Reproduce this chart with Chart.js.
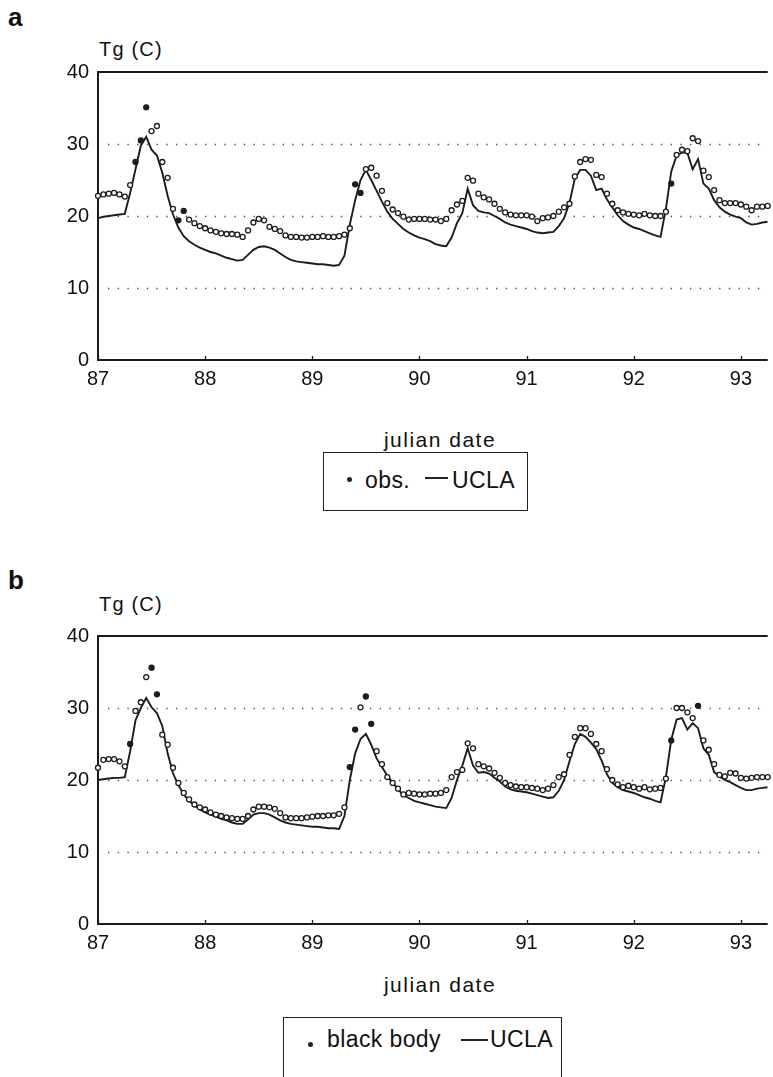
<!DOCTYPE html>
<html lang="en">
<head>
  <meta charset="UTF-8" />
  <title>Tg obs vs UCLA</title>
  <script src="https://cdn.jsdelivr.net/npm/chart.js"></script>
  <style>
    body { margin: 0; background: #fff; font-family: "Liberation Sans", Arial, sans-serif; color: #111; }
    #page { position: relative; width: 773px; height: 1077px; overflow: hidden; }
    canvas { position: absolute; left: 0; }
    .txt { position: absolute; line-height: 1; white-space: nowrap; }
    .panel { font-weight: bold; font-size: 26px; }
    .unit { font-size: 20px; letter-spacing: 1.2px; }
    .xlab { font-size: 21px; letter-spacing: 1.5px; width: 240px; text-align: center; }
    .legend { position: absolute; border: 1.5px solid #222; box-sizing: border-box; }
    .legend .txt { font-size: 23px; letter-spacing: 0.4px; }
    .legend .dot { position: absolute; width: 5px; height: 5px; border-radius: 50%; background: #222; }
    .legend .dash { position: absolute; height: 2px; background: #222; }
  </style>
</head>
<body>
<div id="page">
  <div class="txt panel" style="left:8px; top:4px;">a</div>
  <div class="txt unit" style="left:99px; top:39px;">Tg (C)</div>
  <canvas id="chartA" width="773" height="400" style="top:0px;"></canvas>
  <div class="txt xlab" style="left:320px; top:429px;">julian date</div>
  <div class="legend" style="left:323px; top:452px; width:205px; height:59px;">
    <span class="dot" style="left:23px; top:24px;"></span>
    <span class="txt" style="left:41px; top:16px;">obs.</span>
    <span class="dash" style="left:101px; top:24px; width:23px;"></span>
    <span class="txt" style="left:128px; top:16px;">UCLA</span>
  </div>

  <div class="txt panel" style="left:8px; top:567px;">b</div>
  <div class="txt unit" style="left:99px; top:594px;">Tg (C)</div>
  <canvas id="chartB" width="773" height="400" style="top:564px;"></canvas>
  <div class="txt xlab" style="left:320px; top:974px;">julian date</div>
  <div class="legend" style="left:283px; top:1017px; width:279px; height:75px;">
    <span class="dot" style="left:24px; top:24px;"></span>
    <span class="txt" style="left:43px; top:10px;">black body</span>
    <span class="dash" style="left:177px; top:21px; width:27px;"></span>
    <span class="txt" style="left:206px; top:10px;">UCLA</span>
  </div>
</div>

<script>
  // time axis: julian day, one value every 0.05 day starting at day 87
  const startDay = 87;
  const dayStep = 0.05;
  const xTicks = [87, 88, 89, 90, 91, 92, 93];
  const yTicks = [0, 10, 20, 30, 40];
  const dottedLevels = [10, 20, 30];

  // panel a: observed ground temperature (C)
  const obsA = [
    22.8, 23.0, 23.1, 23.2, 23.0, 22.7, 24.3, 27.5, 30.5, 35.1, 31.8, 32.5, 27.5, 25.3, 21.0, 19.4, 20.7, 19.5, 19.0, 18.6,
    18.3, 18.0, 17.8, 17.6, 17.5, 17.5, 17.4, 17.1, 18.0, 19.1, 19.6, 19.4, 18.5, 18.2, 17.9, 17.3, 17.1, 17.1, 17.0, 17.0,
    17.1, 17.1, 17.2, 17.1, 17.1, 17.2, 17.4, 18.3, 24.4, 23.2, 26.5, 26.7, 25.6, 23.5, 21.8, 20.9, 20.4, 19.9, 19.5, 19.6,
    19.6, 19.6, 19.5, 19.5, 19.3, 19.6, 20.8, 21.6, 22.1, 25.3, 24.9, 23.1, 22.6, 22.3, 21.7, 21.0, 20.5, 20.2, 20.1, 20.1,
    20.1, 19.9, 19.3, 19.7, 19.8, 20.0, 20.6, 21.2, 21.7, 25.5, 27.5, 27.9, 27.8, 25.7, 25.4, 23.1, 21.7, 20.8, 20.5, 20.3,
    20.2, 20.1, 20.3, 20.1, 20.0, 20.0, 20.6, 24.5, 28.5, 29.2, 29.0, 30.8, 30.4, 26.3, 25.4, 23.6, 22.2, 21.8, 21.8, 21.8,
    21.6, 21.3, 20.8, 21.3, 21.3, 21.4
  ];
  // panel a: UCLA model
  const uclaA = [
    19.7, 19.9, 20.0, 20.1, 20.2, 20.3, 23.2, 26.5, 29.8, 31.0, 29.2, 28.4, 26.0, 22.8, 20.2, 18.4, 17.2, 16.5, 16.0, 15.6,
    15.3, 15.0, 14.8, 14.5, 14.2, 14.0, 13.8, 13.9, 14.6, 15.3, 15.7, 15.8, 15.6, 15.3, 14.8, 14.3, 13.9, 13.7, 13.6, 13.5,
    13.4, 13.3, 13.3, 13.2, 13.1, 13.2, 14.5, 18.8, 22.2, 25.0, 26.4, 25.0, 23.5, 22.0, 20.6, 19.6, 18.9, 18.2, 17.7, 17.3,
    17.0, 16.8, 16.5, 16.1, 15.9, 15.8, 17.0, 19.0, 20.4, 23.8, 21.5, 20.7, 20.5, 20.4, 20.0, 19.6, 19.1, 18.8, 18.6, 18.4,
    18.2, 17.9, 17.7, 17.6, 17.7, 17.8, 18.6, 19.7, 21.8, 25.2, 26.4, 26.4, 25.6, 23.6, 23.8, 22.3, 21.2, 20.1, 19.3, 18.8,
    18.4, 18.2, 17.9, 17.6, 17.3, 17.1, 21.0, 26.2, 28.4, 28.8, 28.8, 26.5, 27.9, 24.5, 23.8, 22.2, 21.2, 20.6, 20.2, 19.9,
    19.7, 19.1, 18.8, 18.9, 19.1, 19.2
  ];
  // panel b: black body temperature (C)
  const obsB = [
    21.7, 22.8, 22.9, 22.9, 22.6, 21.9, 25.0, 29.6, 30.8, 34.3, 35.6, 31.9, 26.3, 24.9, 21.7, 19.6, 18.2, 17.3, 16.6, 16.2,
    15.9, 15.5, 15.2, 15.0, 14.8, 14.7, 14.6, 14.6, 15.0, 15.9, 16.3, 16.3, 16.2, 16.0, 15.4, 14.8, 14.7, 14.7, 14.7, 14.8,
    14.9, 15.0, 15.0, 15.1, 15.1, 15.3, 16.2, 21.8, 27.0, 30.1, 31.6, 27.8, 24.0, 22.2, 20.4, 19.6, 18.8, 18.0, 18.2, 18.1,
    18.0, 18.0, 18.1, 18.1, 18.2, 18.6, 20.4, 21.1, 21.4, 25.1, 24.4, 22.2, 21.9, 21.6, 21.0, 20.3, 19.6, 19.3, 19.1, 19.0,
    19.0, 18.9, 18.8, 18.6, 18.8, 19.3, 20.4, 20.8, 23.5, 26.0, 27.2, 27.2, 26.4, 25.0, 24.0, 21.5, 20.0, 19.4, 19.0, 19.2,
    19.0, 18.8, 19.0, 18.7, 18.8, 18.9, 20.2, 25.5, 30.0, 30.0, 29.4, 28.6, 30.3, 25.5, 24.2, 22.2, 20.7, 20.5, 21.0, 20.9,
    20.3, 20.2, 20.3, 20.4, 20.4, 20.4
  ];
  // panel b: UCLA model
  const uclaB = [
    20.0, 20.1, 20.2, 20.3, 20.3, 20.4, 24.0, 28.3, 30.0, 31.4, 30.1, 29.3, 27.5, 23.7, 20.9, 19.3, 18.0, 17.1, 16.5, 15.9,
    15.5, 15.2, 14.9, 14.6, 14.4, 14.1, 13.9, 13.9, 14.5, 15.2, 15.4, 15.4, 15.2, 14.8, 14.4, 14.1, 13.9, 13.8, 13.7, 13.6,
    13.5, 13.5, 13.4, 13.3, 13.3, 13.2, 15.0, 20.0, 23.7, 25.7, 26.4, 24.9, 23.0, 21.8, 20.6, 19.6, 18.7, 17.9, 17.5, 17.1,
    16.9, 16.7, 16.5, 16.3, 16.2, 16.1, 17.5, 20.0, 22.0, 24.4, 22.0, 21.0, 21.1, 20.9, 20.3, 19.8, 19.1, 18.7, 18.5, 18.4,
    18.3, 18.1, 17.9, 17.7, 17.5, 17.6, 18.5, 20.0, 22.6, 25.0, 26.4, 26.0, 25.2, 24.3, 22.7, 20.8, 19.6, 19.0, 18.6, 18.4,
    18.2, 17.9, 17.6, 17.4, 17.1, 16.9, 20.4, 25.6, 28.4, 28.6, 27.0, 27.9, 27.2, 24.4, 23.5, 21.1, 20.5, 20.0, 19.7, 19.3,
    18.9, 18.6, 18.6, 18.8, 18.9, 19.0
  ];

  const ink = '#1c1c1c';
  const tickFont = { family: '"Liberation Sans", Arial, sans-serif', size: 20 };

  function toPoints(values) {
    return values.map((v, i) => ({ x: startDay + i * dayStep, y: v }));
  }

  // spikes and isolated steep readings print as solid dots, the rest as small rings
  function dotFill(ctx) {
    const d = ctx.dataset.data, i = ctx.dataIndex;
    if (!d[i]) return '#fff';
    const y = d[i].y;
    const p = d[i - 1] ? d[i - 1].y : y;
    const n = d[i + 1] ? d[i + 1].y : y;
    const a = y - p, b = y - n;
    const spike = a * b > 0 && Math.min(Math.abs(a), Math.abs(b)) > 0.8;
    const steep = Math.abs(a) > 2.5 && Math.abs(b) > 2.5;
    return (spike || steep) ? ink : '#fff';
  }

  const framePlugin = {
    id: 'frame',
    beforeDatasetsDraw(chart) {
      const { ctx, chartArea: a, scales: { x, y } } = chart;
      ctx.save();
      ctx.strokeStyle = '#555';
      ctx.lineWidth = 1.4;
      ctx.setLineDash([1.4, 8.3]);
      dottedLevels.forEach(v => {
        const py = Math.round(y.getPixelForValue(v)) + 0.5;
        ctx.beginPath();
        ctx.moveTo(a.left + 10, py);
        ctx.lineTo(a.right, py);
        ctx.stroke();
      });
      ctx.setLineDash([]);
      ctx.strokeStyle = ink;
      ctx.lineWidth = 2;
      const top = y.getPixelForValue(yTicks[yTicks.length - 1]);
      const bot = y.getPixelForValue(yTicks[0]);
      ctx.beginPath();
      ctx.moveTo(a.right, top);
      ctx.lineTo(a.left, top);
      ctx.lineTo(a.left, bot);
      ctx.lineTo(a.right, bot);
      ctx.stroke();
      ctx.lineWidth = 1.3;
      xTicks.forEach(t => {
        const px = Math.round(x.getPixelForValue(t)) + 0.5;
        ctx.beginPath();
        ctx.moveTo(px, bot);
        ctx.lineTo(px, bot - 4);
        ctx.stroke();
      });
      ctx.restore();
    }
  };

  function makeChart(id, obs, model) {
    return new Chart(document.getElementById(id), {
      type: 'scatter',
      data: {
        datasets: [
          {
            label: 'obs',
            data: toPoints(obs),
            showLine: false,
            pointRadius: 2.5,
            pointBorderWidth: 1.3,
            pointBorderColor: ink,
            pointBackgroundColor: dotFill,
            clip: false
          },
          {
            label: 'UCLA',
            data: toPoints(model),
            showLine: true,
            borderColor: ink,
            borderWidth: 1.9,
            pointRadius: 0,
            tension: 0
          }
        ]
      },
      options: {
        responsive: false,
        animation: false,
        devicePixelRatio: 1,
        layout: { padding: { top: 72, left: 0, right: 0, bottom: 0 } },
        plugins: { legend: { display: false }, tooltip: { enabled: false } },
        scales: {
          x: {
            type: 'linear',
            min: 87,
            max: 93.25,
            afterBuildTicks: s => { s.ticks = xTicks.map(v => ({ value: v })); },
            afterFit: s => { s.height = 40; },
            ticks: { font: tickFont, color: '#111', padding: 7, maxRotation: 0 },
            grid: { display: false, drawTicks: false },
            border: { display: false }
          },
          y: {
            min: 0,
            max: 40,
            afterBuildTicks: s => { s.ticks = yTicks.map(v => ({ value: v })); },
            afterFit: s => { s.width = 98; },
            ticks: { font: tickFont, color: '#111', padding: 9 },
            grid: { display: false, drawTicks: false },
            border: { display: false }
          }
        }
      },
      plugins: [framePlugin]
    });
  }

  makeChart('chartA', obsA, uclaA);
  makeChart('chartB', obsB, uclaB);
</script>
</body>
</html>
